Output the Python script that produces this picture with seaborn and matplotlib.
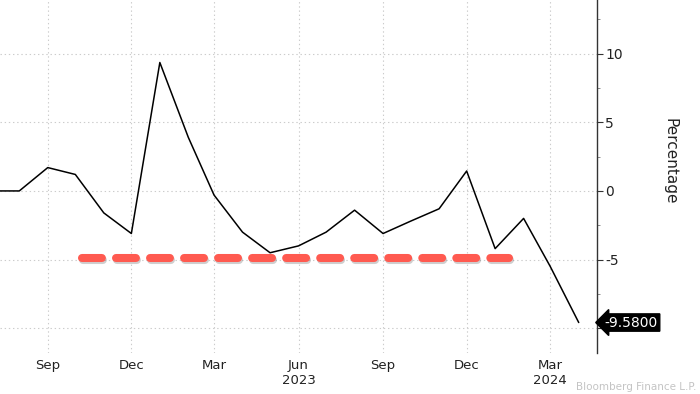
import matplotlib
matplotlib.use("Agg")
import matplotlib.pyplot as plt
import matplotlib.patheffects as pe
from matplotlib.ticker import MultipleLocator
import matplotlib.transforms as mtransforms
import seaborn as sns
import pandas as pd

# ---- data ----
months = pd.date_range("2022-07-01", "2024-04-01", freq="MS")
values = [0.0, 0.0, 1.7, 1.2, -1.6, -3.1, 9.35, 3.9, -0.3, -3.0, -4.5, -4.0,
          -3.0, -1.4, -3.1, -2.2, -1.3, 1.45, -4.2, -2.0, -5.5, -9.58]
tick_dates = pd.to_datetime(["2022-09-01", "2022-12-01", "2023-03-01", "2023-06-01",
                             "2023-09-01", "2023-12-01", "2024-03-01"])
tick_labels = ["Sep", "Dec", "Mar", "Jun\n2023", "Sep", "Dec", "Mar\n2024"]
y_ticks = [-10, -5, 0, 5, 10]
y_tick_labels = ["", "-5", "0", "5", "10"]
ref_level = -4.85
ref_start, ref_end = pd.Timestamp("2022-10-08"), pd.Timestamp("2024-01-16")
last_label = "-9.5800"
y_label = "Percentage"
source_text = "Bloomberg Finance L.P."

df = pd.DataFrame({"date": months, "value": values})

sns.set_theme(style="white")
plt.rcParams["font.family"] = ["DejaVu Sans"]
plt.rcParams["lines.scale_dashes"] = False

fig = plt.figure(figsize=(7.0, 3.94), dpi=100)
ax = fig.add_axes([0.0, 0.104, 0.853, 0.896])

sns.lineplot(data=df, x="date", y="value", ax=ax, color="black", linewidth=1.1)

# reference dashed red line
ln, = ax.plot([ref_start, ref_end], [ref_level, ref_level], color="#FF5A50",
              linewidth=5.8, dash_capstyle="round")
ln.set_dashes([14.3, 10.2])
ln.set_path_effects([pe.SimpleLineShadow(offset=(1.0, -2.0), shadow_color="#777777", alpha=0.35),
                     pe.Normal()])

ax.set_xlim(pd.Timestamp("2022-07-11"), pd.Timestamp("2024-04-21"))
ax.set_ylim(-11.8, 13.9)

ax.set_xticks(tick_dates)
ax.set_xticklabels(tick_labels, fontsize=9.5, color="#222222", linespacing=1.2)
ax.tick_params(axis="x", length=0, pad=4)

ax.yaxis.tick_right()
ax.yaxis.set_label_position("right")
ax.set_yticks(y_ticks)
ax.set_yticklabels(y_tick_labels, fontsize=10, color="#222222")
ax.yaxis.set_minor_locator(MultipleLocator(2.5))
ax.tick_params(axis="y", which="major", direction="out", length=4, width=0.8, color="#333333", pad=2)
ax.tick_params(axis="y", which="minor", direction="out", length=2, width=0.6, color="#777777")

ax.grid(True, which="major", linestyle=(0, (1, 2)), color="#cccccc", linewidth=0.8)
ax.set_axisbelow(True)

for s in ["left", "top", "bottom"]:
    ax.spines[s].set_visible(False)
ax.spines["right"].set_color("#333333")
ax.spines["right"].set_linewidth(1.0)

ax.set_xlabel("")
ax.set_ylabel(y_label, rotation=270, fontsize=11, color="#222222", va="center", ha="center")
ax.yaxis.set_label_coords(1.122, 0.544)

trans = mtransforms.blended_transform_factory(ax.transAxes, ax.transData)
ax.text(1.013, values[-1], last_label, transform=trans, color="white", fontsize=10,
        va="center", ha="left",
        bbox=dict(boxstyle="larrow,pad=0.12", fc="black", ec="black"), clip_on=False)

fig.text(0.995, 0.004, source_text, color="#c4c4c4", fontsize=7.5, va="bottom", ha="right")

fig.savefig("out.png", dpi=100)
